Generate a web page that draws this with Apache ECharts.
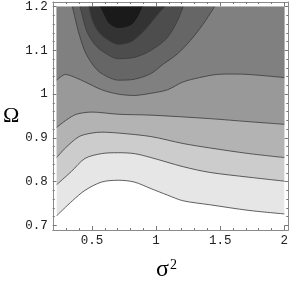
<!DOCTYPE html>
<html>
<head>
<meta charset="utf-8">
<script src="https://cdn.jsdelivr.net/npm/echarts@6/dist/echarts.min.js"></script>
<style>
html,body{margin:0;padding:0;background:#fff;}
#chart{width:291px;height:287px;}
</style>
</head>
<body>
<div id="chart"></div>
<script>
// Tick labels
const xTicks = [0.5, 1, 1.5, 2];
const yTicks = [0.7, 0.8, 0.9, 1, 1.1, 1.2];
const xMinorTicks = [0.3, 0.4, 0.6, 0.7, 0.8, 0.9, 1.1, 1.2, 1.3, 1.4, 1.6, 1.7, 1.8, 1.9];
const yMinorTicks = [0.72, 0.74, 0.76, 0.78, 0.82, 0.84, 0.86, 0.88, 0.92, 0.94, 0.96, 0.98, 1.02, 1.04, 1.06, 1.08, 1.12, 1.14, 1.16, 1.18];

// Contour lines: [sigma^2, Omega]
const contourLow5 = [[0.225,0.722],[0.347,0.756],[0.446,0.780],[0.576,0.799],[0.706,0.803],[0.829,0.799],[0.959,0.784],[1.089,0.769],[1.211,0.756],[1.418,0.747],[1.724,0.734],[2.0,0.726]];
const contourLow4 = [[0.225,0.793],[0.339,0.823],[0.446,0.853],[0.576,0.864],[0.706,0.866],[0.829,0.864],[0.959,0.855],[1.211,0.834],[1.418,0.821],[1.724,0.810],[2.0,0.801]];
const contourLow3 = [[0.225,0.855],[0.293,0.877],[0.400,0.903],[0.5,0.911],[0.576,0.913],[0.706,0.911],[0.959,0.903],[1.211,0.887],[1.418,0.877],[1.724,0.864],[2.0,0.855]];
const contourLow2 = [[0.225,0.924],[0.301,0.941],[0.378,0.954],[0.5,0.959],[0.706,0.954],[0.959,0.952],[1.418,0.944],[1.724,0.937],[2.0,0.931]];
const contourBump = [[0.225,1.032],[0.293,1.045],[0.370,1.038],[0.446,1.028],[0.576,1.010],[0.706,1.000],[0.829,0.997],[0.959,1.002],[1.089,1.010],[1.211,1.028],[1.341,1.038],[1.472,1.045],[1.594,1.046],[1.724,1.045],[2.0,1.038]];
const contourV1 = [[0.347,1.2],[0.370,1.172],[0.393,1.144],[0.446,1.097],[0.515,1.064],[0.576,1.047],[0.706,1.032],[0.829,1.034],[0.959,1.047],[1.058,1.069],[1.166,1.092],[1.265,1.122],[1.364,1.159],[1.456,1.2]];
const contourV2 = [[0.408,1.2],[0.431,1.172],[0.462,1.142],[0.515,1.116],[0.576,1.099],[0.706,1.081],[0.829,1.084],[0.921,1.094],[0.997,1.107],[1.074,1.125],[1.127,1.146],[1.173,1.172],[1.211,1.2]];
const contourV3 = [[0.477,1.2],[0.5,1.172],[0.538,1.148],[0.600,1.129],[0.706,1.114],[0.806,1.120],[0.882,1.138],[0.959,1.163],[1.020,1.185],[1.066,1.2]];
const contourV4 = [[0.561,1.2],[0.600,1.176],[0.630,1.161],[0.706,1.150],[0.806,1.157],[0.859,1.176],[0.898,1.2]];

const contours = [contourLow5, contourLow4, contourLow3, contourLow2, contourBump, contourV1, contourV2, contourV3, contourV4];
const shades = ['#e6e6e6', '#cccccc', '#b3b3b3', '#999999', '#808080', '#666666', '#4d4d4d', '#333333', '#1a1a1a'];

const X_MIN = 0.194, X_MAX = 2.031, Y_MIN = 0.6892, Y_MAX = 1.2108, TOP = 1.2;

const labelFont = {fontFamily: 'Liberation Mono', fontSize: 12.5, color: '#222'};
const frameLine = {show: true, onZero: false, lineStyle: {color: '#8a8a8a', width: 1}};

function mkX(pos, ticks, len, labels, line) {
  return {
    type: 'value', position: pos, min: X_MIN, max: X_MAX,
    axisLine: line ? frameLine : {show: false},
    axisTick: {show: true, inside: true, length: len, customValues: ticks, lineStyle: {color: '#777', width: 1}},
    axisLabel: labels ? Object.assign({show: true, customValues: ticks, margin: 4}, labelFont) : {show: false},
    splitLine: {show: false}
  };
}
function mkY(pos, ticks, len, labels, line) {
  return {
    type: 'value', position: pos, min: Y_MIN, max: Y_MAX,
    axisLine: line ? frameLine : {show: false},
    axisTick: {show: true, inside: true, length: len, customValues: ticks, lineStyle: {color: '#777', width: 1}},
    axisLabel: labels ? Object.assign({show: true, customValues: ticks, margin: 5}, labelFont) : {show: false},
    splitLine: {show: false}
  };
}

const xAxes = [mkX('bottom', xTicks, 4, true, true), mkX('bottom', xMinorTicks, 2, false, false), mkX('top', xTicks, 4, false, true), mkX('top', xMinorTicks, 2, false, false)];
const yAxes = [mkY('left', yTicks, 4, true, true), mkY('left', yMinorTicks, 2, false, false), mkY('right', yTicks, 4, false, true), mkY('right', yMinorTicks, 2, false, false)];

xAxes[0].name = 'σ{s|2}';
xAxes[0].nameLocation = 'middle';
xAxes[0].nameGap = 28;
xAxes[0].nameTextStyle = {fontFamily: 'Liberation Serif', fontSize: 24, color: '#000', padding: [0, 8, 0, 0], rich: {s: {fontFamily: 'Liberation Serif', fontSize: 14, color: '#000', verticalAlign: 'top', padding: [0, 0, 10, 1]}}};
yAxes[0].name = 'Ω';
yAxes[0].nameLocation = 'middle';
yAxes[0].nameRotate = 0;
yAxes[0].nameGap = 31;
yAxes[0].nameTextStyle = {fontFamily: 'Liberation Serif', fontSize: 22, color: '#000', padding: [0, 0, 10, 0]};

const series = contours.map((c, i) => ({
  type: 'line', data: c, xAxisIndex: 0, yAxisIndex: 0,
  symbol: 'none', smooth: 0.3, silent: true,
  lineStyle: {color: '#3a3a3a', width: 0.8},
  areaStyle: {color: shades[i], opacity: 1, origin: TOP},
  z: 2 + i
}));

const chart = echarts.init(document.getElementById('chart'), null, {renderer: 'canvas'});
chart.setOption({
  animation: false,
  backgroundColor: '#fff',
  grid: {left: 50, right: 1, top: 2, bottom: 43, containLabel: false},
  xAxis: xAxes,
  yAxis: yAxes,
  series: series
});
</script>
</body>
</html>
